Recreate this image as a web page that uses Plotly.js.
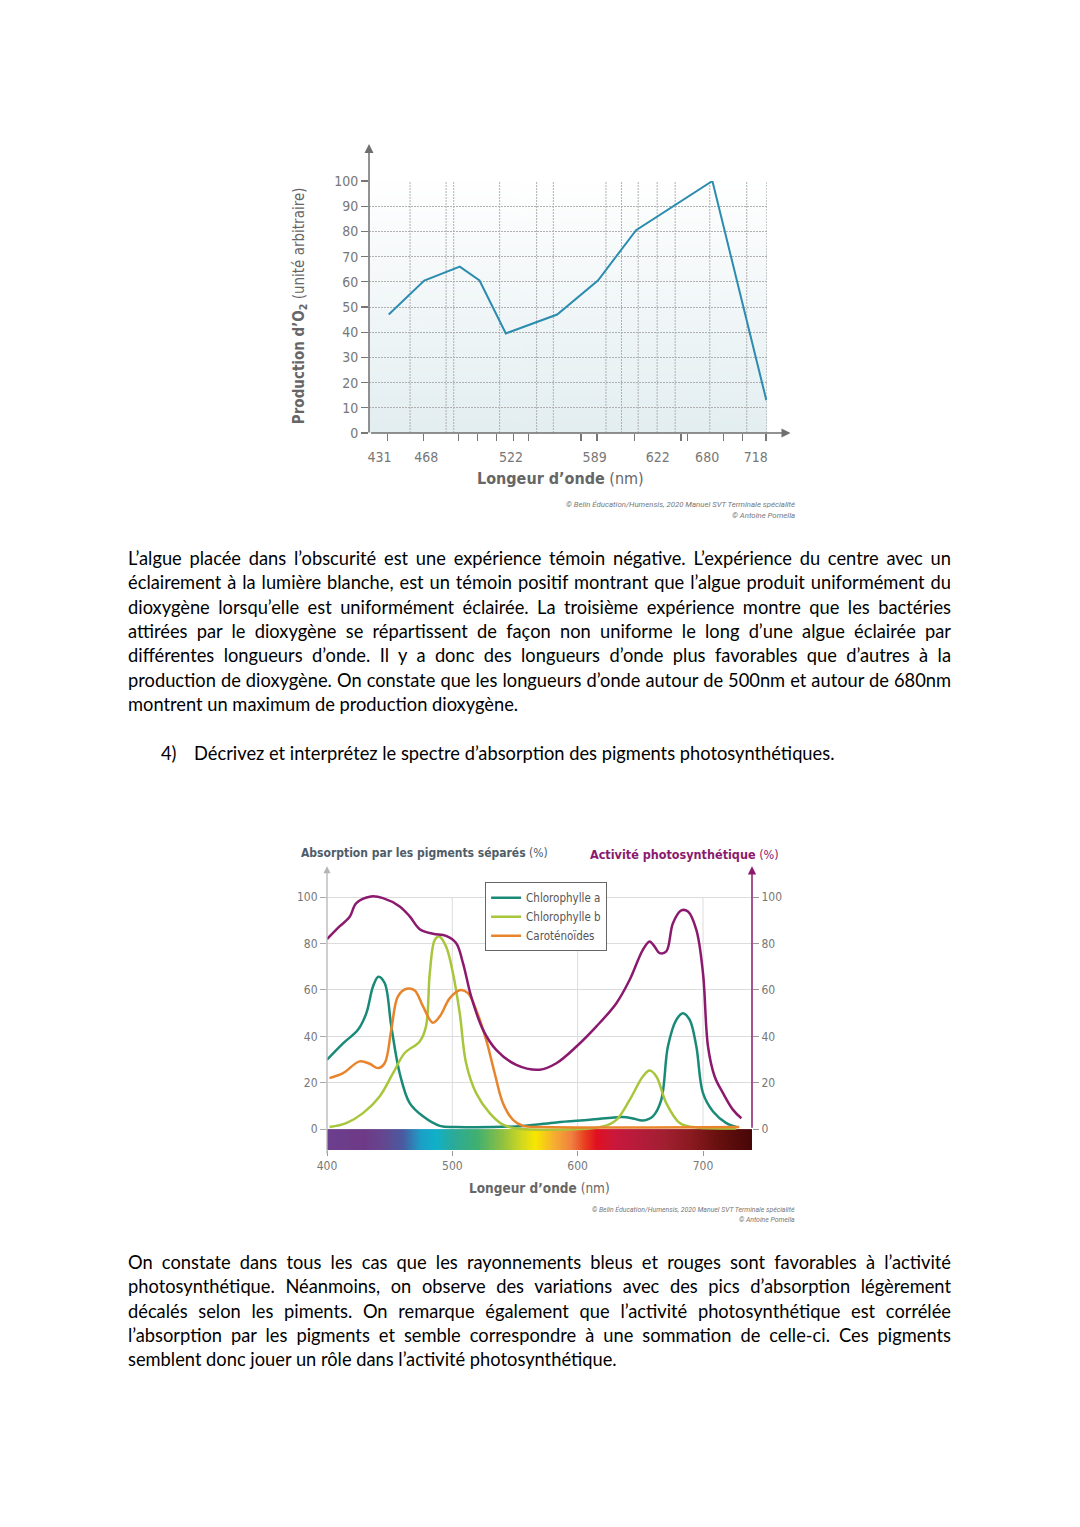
<!DOCTYPE html>
<html><head><meta charset="utf-8">
<script src="https://cdn.plot.ly/plotly-3.0.1.min.js"></script>
<style>
html,body{margin:0;padding:0;background:#fff;}
body{width:1080px;height:1527px;position:relative;overflow:hidden;font-family:Lato,'Open Sans',sans-serif;color:#000;}
.chart{position:absolute;}
.line{position:absolute;left:128px;width:823px;height:24.4px;line-height:24.4px;white-space:nowrap;text-align:justify;text-align-last:justify;}
.line.last{text-align:left;text-align-last:left;}
</style></head>
<body>
<div id="c1" class="chart" style="left:260px;top:120px;width:560px;height:410px;"></div>
<div id="c2" class="chart" style="left:260px;top:830px;width:560px;height:410px;"></div>
<div id="text"></div>
<script>
// ---------- Chart 1 data: O2 production vs wavelength ----------
const o2Wavelength = [431, 458, 485, 500, 520, 559, 590, 619, 677, 718];
const o2Production = [47, 60.5, 66, 60.5, 39.5, 47, 60.5, 80.5, 100, 13];
const o2TickLabels = ['431', '468', '522', '589', '622', '680', '718'];
const o2TickLabelPos = [424, 459.5, 524, 587.5, 635.5, 673, 710];
const o2TickMarkPos = [430.2, 457.6, 484.2, 498.6, 512.6, 525.7, 537.4, 577.2, 589.3, 617.7, 653.1, 658.1, 685.5, 699.9, 717.7];
const o2GridPos = [447.2, 474.6, 480.4, 515.3, 543.4, 556.1, 596.1, 607.9, 620.6, 635.0, 648.7, 675.0, 703.1, 718.4];
const o2YTicks = [0, 10, 20, 30, 40, 50, 60, 70, 80, 90, 100];

// ---------- Chart 2 data: absorption spectra ----------
const chlAx = [400,412.8,424.7,431.4,436.7,441,446,451.3,458,466,476.6,490,503,556.4,583,609.6,636,644,652,660,666.7,672,678.7,684,689.4,694.7,700,708,718.6,726.6];
const chlAy = [29.9,37,42.8,50,61.5,65.7,63,44.3,24.1,11.2,5.5,1.4,0.9,1.4,2.9,4,5.2,4.6,3.7,5.5,12.6,35.6,47.1,50,47.1,35.6,15.5,7.6,2.6,0.9];
const chlBx = [402,415.4,428.7,442,452.7,462,474,479,482,486,489.5,495,500.5,505.9,511,519,529.8,540.4,551,620,630.9,641.5,652,657.4,662.8,670.7,681.4,692,726.6];
const chlBy = [0.9,2.6,6.9,14.1,24.1,32.8,37.8,44.3,67.2,81.6,83,78.7,67.2,50,28.4,15.5,6.9,1.9,0.3,1.1,4,12.6,22.7,25.3,22.7,11.2,2.6,0.9,0.3];
const carx = [402,412.8,426,434,440.7,446,451.3,456.6,463.5,470,476.6,484.4,490,498,506.5,512.5,519,527,533.8,540.4,548.4,556.4,572,729];
const cary = [22,24.1,29.2,28.2,26.3,28.4,42.8,57.2,60.5,59.8,52.9,45.9,48.6,56.5,60,58.6,51.4,38.5,24.1,11.2,4,1.4,0.9,0.9];
const actx = [400,410,418,423.4,435,444.7,458,466,474,484.6,495,503,508.5,515,524.5,535,551,569.7,583,599,615,630.9,641.5,652,657.4,661.4,665.4,670.7,676,682.7,688,694.7,700,704,709.3,716,724,730.6];
const acty = [81.9,87.4,91.4,97.4,100.3,99.6,96,91.7,86.2,84.2,83.3,80.2,71.6,57.2,42.8,34.2,27.7,25.6,28.4,35.6,44.3,54.3,64.4,77.3,80.9,78.7,75.9,76.6,88.8,94.3,93.8,85.9,67.2,35.6,22.7,15.5,8.3,4.7];
const absXTicks = [400, 500, 600, 700];
const absYTicks = [0, 20, 40, 60, 80, 100];
const spectrumWl = [395,430,445,460,475,487,500,520,540,555,566,580,595,605,615,630,650,670,690,710,745];
const spectrumColors = ['#6b3f8f','#6e3a86','#64478f','#4a5aa0','#1aa0c8','#10b0c8','#2aaa9a','#40b070','#90c040','#d0d820','#f8e600','#f5b030','#f08040','#e84020','#e01020','#c8183c','#b41c3a','#a01f30','#8a1a20','#6a1010','#400404'];

const F = "'Liberation Sans Narrow','DejaVu Sans Condensed',Roboto,sans-serif";
const GRID_DASH = '2px,1px';

// gradient background image for chart 1
function gradImg(){
  const cv=document.createElement('canvas'); cv.width=4; cv.height=200;
  const g=cv.getContext('2d'); const lg=g.createLinearGradient(0,0,0,200);
  lg.addColorStop(0,'#ffffff'); lg.addColorStop(1,'#e3eef1');
  g.fillStyle=lg; g.fillRect(0,0,4,200); return cv.toDataURL();
}

// ---------- Chart 1 ----------
(function(){
  const xr=[416,718.5];
  const data=[{x:o2Wavelength,y:o2Production,type:'scatter',mode:'lines',line:{color:'#2b8cb0',width:2},hoverinfo:'x+y'}];
  const vgrid=o2GridPos.map(v=>({type:'line',xref:'x',yref:'y',x0:v,x1:v,y0:0,y1:100,line:{color:'#b0b0b0',width:1,dash:GRID_DASH},layer:'below'}));
  const layout={
    width:560,height:410,margin:{l:109,r:53,t:61,b:97},
    paper_bgcolor:'rgba(0,0,0,0)',plot_bgcolor:'rgba(0,0,0,0)',showlegend:false,
    font:{family:F,color:'#777'},
    images:[{source:gradImg(),xref:'paper',yref:'paper',x:0,y:1,sizex:1,sizey:1,sizing:'stretch',layer:'below'}],
    shapes:vgrid,
    xaxis:{range:xr,tickmode:'array',tickvals:o2TickLabelPos,ticktext:o2TickLabels,ticks:'',ticklabelstandoff:14,tickfont:{size:14,color:'#777'},
      minor:{tickmode:'array',tickvals:o2TickMarkPos,ticks:'outside',ticklen:7,tickcolor:'#777',tickwidth:1.2,showgrid:false},
      showgrid:false,zeroline:false,showline:false},
    yaxis:{range:[0,100],tickmode:'array',tickvals:o2YTicks,ticks:'outside',ticklen:7,tickcolor:'#777',tickwidth:1.2,tickfont:{size:14,color:'#777'},showgrid:true,gridcolor:'#b0b0b0',griddash:GRID_DASH,zeroline:false,showline:false},
    annotations:[
      {xref:'paper',yref:'paper',x:0,y:1.147,showarrow:true,ax:0,ay:290,text:'',arrowhead:2,arrowsize:1.2,arrowwidth:1.5,arrowcolor:'#6f6f6f',standoff:0},
      {xref:'paper',yref:'paper',x:1.059,y:0,showarrow:true,ax:-421,ay:0,text:'',arrowhead:2,arrowsize:1.2,arrowwidth:1.5,arrowcolor:'#6f6f6f',standoff:0},
      {xref:'paper',yref:'paper',x:-0.176,y:0.507,textangle:-90,showarrow:false,xanchor:'center',yanchor:'middle',text:"<b>Production d’O<sub>2</sub></b> (unité arbitraire)",font:{size:15,color:'#666',family:F}},
      {xref:'paper',yref:'paper',x:0.48,y:-0.182,showarrow:false,xanchor:'center',yanchor:'middle',text:"<b>Longeur d’onde</b> (nm)",font:{size:16,color:'#666',family:F}},
      {xref:'paper',yref:'paper',x:1.076,y:-0.285,showarrow:false,xanchor:'right',yanchor:'middle',text:"<i>© Belin Éducation/Humensis, 2020 Manuel SVT Terminale spécialité</i>",font:{size:7.8,color:'#777',family:'Roboto,sans-serif'}},
      {xref:'paper',yref:'paper',x:1.076,y:-0.329,showarrow:false,xanchor:'right',yanchor:'middle',text:"<i>© Antoine Pomella</i>",font:{size:7.8,color:'#777',family:'Roboto,sans-serif'}}
    ]
  };
  Plotly.newPlot('c1',data,layout,{staticPlot:true});
})();

// ---------- Chart 2 ----------
(function(){
  const xr=[400,739.1], yr=[-9,113];
  const zmin=spectrumWl[0], zmax=spectrumWl[spectrumWl.length-1];
  const cs=spectrumWl.map((w,i)=>[(w-zmin)/(zmax-zmin),spectrumColors[i]]);
  const data=[
    {type:'heatmap',x:spectrumWl,y:[-9,0],z:[spectrumWl],zmin:zmin,zmax:zmax,colorscale:cs,zsmooth:'best',showscale:false,hoverinfo:'skip',showlegend:false},
    {x:chlAx,y:chlAy,name:'Chlorophylle a',type:'scatter',mode:'lines',line:{color:'#1a8a78',width:2.5,shape:'spline'}},
    {x:chlBx,y:chlBy,name:'Chlorophylle b',type:'scatter',mode:'lines',line:{color:'#a8c63c',width:2.5,shape:'spline'}},
    {x:carx,y:cary,name:'Caroténoïdes',type:'scatter',mode:'lines',line:{color:'#e8842c',width:2.5,shape:'spline'}},
    {x:actx,y:acty,name:'Activité photosynthétique',yaxis:'y2',type:'scatter',mode:'lines',line:{color:'#8b1a6e',width:2.5,shape:'spline'},showlegend:false}
  ];
  const shapes=absXTicks.filter(v=>v>400).map(v=>({type:'line',xref:'x',yref:'y',x0:v,x1:v,y0:0,y1:100,line:{color:'#dcdcdc',width:1},layer:'below'}));
  const layout={
    width:560,height:410,margin:{l:67,r:68,t:37,b:90},
    paper_bgcolor:'rgba(0,0,0,0)',plot_bgcolor:'rgba(0,0,0,0)',
    font:{family:F,color:'#777'},
    shapes:shapes,
    xaxis:{range:xr,tickmode:'array',tickvals:absXTicks,ticks:'outside',ticklen:5,tickcolor:'#999',tickfont:{size:12,color:'#777'},showgrid:false,zeroline:false,showline:false},
    yaxis:{range:yr,tickmode:'array',tickvals:absYTicks,ticks:'outside',ticklen:6,tickcolor:'#aaa',tickfont:{size:12,color:'#777'},showgrid:true,gridcolor:'#dcdcdc',zeroline:false,showline:false},
    yaxis2:{overlaying:'y',side:'right',range:yr,tickmode:'array',tickvals:absYTicks,ticks:'outside',ticklen:6,tickcolor:'#999',tickfont:{size:12,color:'#777'},showgrid:false,zeroline:false,showline:false},
    legend:{x:0.372,y:0.946,xanchor:'left',yanchor:'top',bgcolor:'#fff',bordercolor:'#666',borderwidth:1,font:{size:11.5,color:'#555',family:F},itemwidth:30,tracegroupgap:0},
    annotations:[
      {xref:'paper',yref:'paper',x:0,y:1.0028,showarrow:true,ax:0,ay:289,text:'',arrowhead:2,arrowsize:1.1,arrowwidth:1.3,arrowcolor:'#b5b5b5',standoff:0},
      {xref:'paper',yref:'paper',x:1,y:1.0028,showarrow:true,ax:0,ay:263,text:'',arrowhead:2,arrowsize:1.1,arrowwidth:1.5,arrowcolor:'#8b1a6e',standoff:0},
      {xref:'paper',yref:'paper',x:-0.066,y:1.049,showarrow:false,xanchor:'left',yanchor:'middle',text:"<b>Absorption par les pigments séparés</b> (%)",font:{size:12,color:'#4f5d68',family:F}},
      {xref:'paper',yref:'paper',x:1.068,y:1.045,showarrow:false,xanchor:'right',yanchor:'middle',text:"<b>Activité photosynthétique</b> (%)",font:{size:12.5,color:'#8b1a6e',family:F}},
      {xref:'paper',yref:'paper',x:0.501,y:-0.134,showarrow:false,xanchor:'center',yanchor:'middle',text:"<b>Longeur d’onde</b> (nm)",font:{size:13.5,color:'#666',family:F}},
      {xref:'paper',yref:'paper',x:1.106,y:-0.212,showarrow:false,xanchor:'right',yanchor:'middle',text:"<i>© Belin Éducation/Humensis, 2020 Manuel SVT Terminale spécialité</i>",font:{size:6.9,color:'#777',family:'Roboto,sans-serif'}},
      {xref:'paper',yref:'paper',x:1.106,y:-0.247,showarrow:false,xanchor:'right',yanchor:'middle',text:"<i>© Antoine Pomella</i>",font:{size:6.9,color:'#777',family:'Roboto,sans-serif'}}
    ]
  };
  Plotly.newPlot('c2',data,layout,{staticPlot:true});
})();

// ---------- Text ----------
const para1 = [
 "L’algue placée dans l’obscurité est une expérience témoin négative. L’expérience du centre avec un",
 "éclairement à la lumière blanche, est un témoin positif montrant que l’algue produit uniformément du",
 "dioxygène lorsqu’elle est uniformément éclairée. La troisième expérience montre que les bactéries",
 "attirées par le dioxygène se répartissent de façon non uniforme le long d’une algue éclairée par",
 "différentes longueurs d’onde. Il y a donc des longueurs d’onde plus favorables que d’autres à la",
 "production de dioxygène. On constate que les longueurs d’onde autour de 500nm et autour de 680nm",
 "montrent un maximum de production dioxygène."];
const question = ["4)", "Décrivez et interprétez le spectre d’absorption des pigments photosynthétiques."];
const para2 = [
 "On constate dans tous les cas que les rayonnements bleus et rouges sont favorables à l’activité",
 "photosynthétique. Néanmoins, on observe des variations avec des pics d’absorption légèrement",
 "décalés selon les piments. On remarque également que l’activité photosynthétique est corrélée",
 "l’absorption par les pigments et semble correspondre à une sommation de celle-ci. Ces pigments",
 "semblent donc jouer un rôle dans l’activité photosynthétique."];

(function(){
  const root=document.getElementById('text');
  const probe=document.createElement('span'); probe.style.cssText='position:absolute;visibility:hidden;white-space:nowrap;font-size:100px;';
  document.body.appendChild(probe);
  const meas=t=>{probe.textContent=t;return probe.getBoundingClientRect().width;};
  const r=[400/meas(para1[6]), 651/meas(question[1]), 500/meas(para2[4])];
  let fs=100*(r[0]+r[1]+r[2])/3;
  const justified=para1.slice(0,6).concat(para2.slice(0,4));
  const maxW=Math.max(...justified.map(meas));
  fs=Math.min(fs, 100*818/maxW);
  probe.remove();
  function addLine(txt,top,last,left,width){
    const d=document.createElement('div'); d.className='line'+(last?' last':'');
    d.style.top=(top-12.2)+'px'; d.style.fontSize=fs+'px';
    if(left!==undefined){d.style.left=left+'px';}
    if(width!==undefined){d.style.width=width+'px';}
    d.textContent=txt; root.appendChild(d);
  }
  para1.forEach((t,i)=>addLine(t,558+24.4*i,i===para1.length-1));
  addLine(question[0],753,true,161,30);
  addLine(question[1],753,true,194,700);
  para2.forEach((t,i)=>addLine(t,1262+24.4*i,i===para2.length-1));
})();
</script>
</body></html>
